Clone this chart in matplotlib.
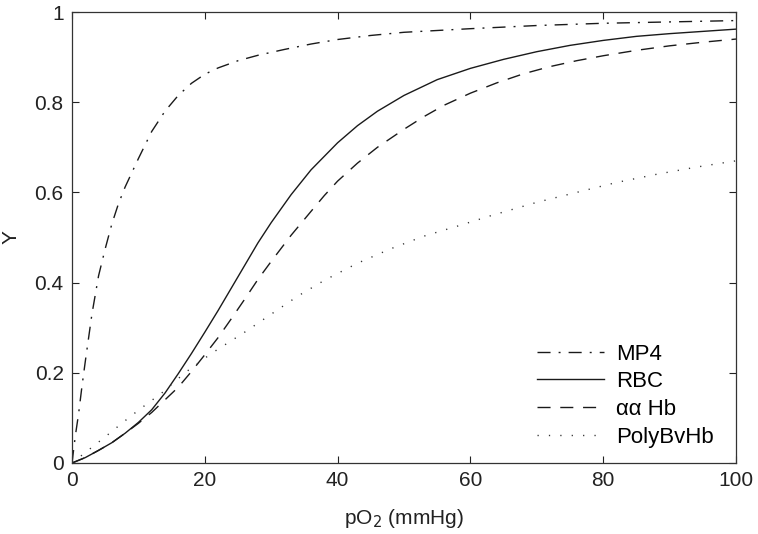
import matplotlib
matplotlib.use("Agg")
import matplotlib.pyplot as plt

plt.rcParams['font.family'] = ['Liberation Sans', 'DejaVu Sans']

# MP4 (dash-dot)
mp4_x = [0, 0.5, 1, 1.5, 2, 3, 4, 5, 6, 7, 8, 10, 12, 14, 16, 18, 20, 22, 25, 28, 32, 36, 40, 45, 50, 60, 70, 80, 90, 100]
mp4_y = [0, 0.06, 0.11, 0.17, 0.225, 0.33, 0.415, 0.475, 0.53, 0.575, 0.612, 0.675, 0.735, 0.78, 0.815, 0.842, 0.862, 0.876, 0.892, 0.904, 0.917, 0.929, 0.939, 0.948, 0.955, 0.963, 0.97, 0.975, 0.978, 0.981]

# RBC (solid)
rbc_x = [0, 2, 4, 6, 8, 10, 12, 14, 16, 18, 20, 22, 24, 26, 28, 30, 33, 36, 40, 43, 46, 50, 55, 60, 65, 70, 75, 80, 85, 90, 95, 100]
rbc_y = [0, 0.012, 0.028, 0.045, 0.066, 0.09, 0.118, 0.155, 0.198, 0.243, 0.29, 0.338, 0.388, 0.438, 0.488, 0.533, 0.595, 0.65, 0.71, 0.748, 0.78, 0.815, 0.85, 0.875, 0.895, 0.912, 0.926, 0.937, 0.946, 0.952, 0.957, 0.962]

# alpha-alpha Hb (dashed)
aa_x = [0, 2, 4, 6, 8, 10, 12, 14, 16, 18, 20, 22, 24, 26, 28, 30, 33, 36, 38, 40, 43, 46, 50, 53, 56, 60, 64, 68, 72, 76, 80, 85, 90, 95, 100]
aa_y = [0, 0.012, 0.028, 0.045, 0.066, 0.088, 0.112, 0.14, 0.168, 0.203, 0.24, 0.278, 0.32, 0.363, 0.407, 0.447, 0.505, 0.558, 0.593, 0.625, 0.665, 0.70, 0.74, 0.768, 0.793, 0.82, 0.843, 0.863, 0.879, 0.892, 0.903, 0.915, 0.925, 0.933, 0.94]

# PolyBvHb (dotted)
poly_x = [0, 2.5, 5, 7.5, 10, 13.5, 17, 21, 26, 30, 34, 38, 43, 48, 53, 58, 63, 70, 76, 82, 88, 94, 100]
poly_y = [0, 0.029, 0.058, 0.088, 0.117, 0.155, 0.2, 0.243, 0.29, 0.33, 0.37, 0.405, 0.443, 0.475, 0.503, 0.525, 0.548, 0.578, 0.6, 0.622, 0.64, 0.656, 0.67]

labels = ['MP4', 'RBC', 'αα Hb', 'PolyBvHb']
x_ticks = [0, 20, 40, 60, 80, 100]
y_ticks = [0, 0.2, 0.4, 0.6, 0.8, 1]
y_ticklabels = ['0', '0.2', '0.4', '0.6', '0.8', '1']

fig = plt.figure(figsize=(7.58, 5.34), dpi=100)
ax = fig.add_axes([72/758, 1 - 463/534, (736-72)/758, (463-12)/534])

col = '#1a1a1a'
lw = 1.0
ax.plot(mp4_x, mp4_y, color=col, lw=lw, dashes=[9.4, 5.8, 1.4, 5.8], label=labels[0])
ax.plot(rbc_x, rbc_y, color=col, lw=lw, linestyle='-', label=labels[1])
ax.plot(aa_x, aa_y, color=col, lw=lw, dashes=[9.4, 7.0], label=labels[2])
ax.plot(poly_x, poly_y, color='#333333', lw=lw, dashes=[0.9, 7.3], label=labels[3])

ax.set_xlim(0, 100)
ax.set_ylim(0, 1)
ax.set_xticks(x_ticks)
ax.set_xticklabels([str(v) for v in x_ticks])
ax.set_yticks(y_ticks)
ax.set_yticklabels(y_ticklabels)
ax.tick_params(direction='in', length=5, width=0.8, top=True, right=True,
               labelsize=15, colors='#222222', pad=6)
for s in ax.spines.values():
    s.set_linewidth(0.9)
    s.set_color('#333333')

ax.set_xlabel('pO$_2$ (mmHg)', fontsize=15, color='#222222', labelpad=12)
ax.set_ylabel('Y', fontsize=15, color='#222222', labelpad=10)

leg = ax.legend(loc='lower right', frameon=False, fontsize=16, handlelength=3.0,
                handletextpad=0.55, labelspacing=0.3, borderaxespad=0.6,
                bbox_to_anchor=(1.0, -0.015))

fig.savefig('out.png', dpi=100)
